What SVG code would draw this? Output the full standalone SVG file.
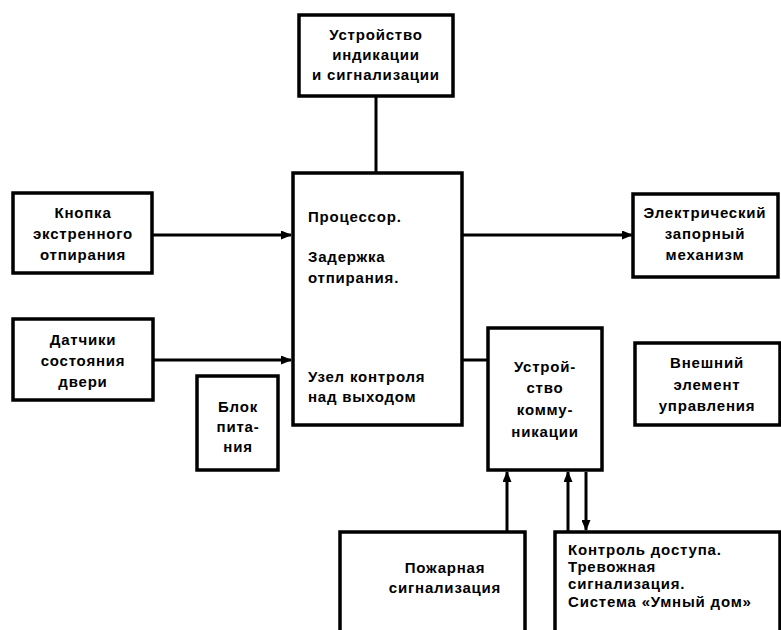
<svg xmlns="http://www.w3.org/2000/svg" width="781" height="630" viewBox="0 0 781 630">
<defs>
<style>
.box{fill:#fff;stroke:#000;stroke-width:3.5}
.ln{fill:none;stroke:#000;stroke-width:3}
text{font-family:"Liberation Sans",Arial,sans-serif;font-weight:bold;font-size:15px;letter-spacing:0.8px;fill:#000}
.c{text-anchor:middle}
</style>
<marker id="ah" markerUnits="userSpaceOnUse" markerWidth="11" markerHeight="9" refX="10" refY="4.5" orient="auto">
<path d="M0,0 L11,4.5 L0,9 z" fill="#000"/>
</marker>
</defs>
<rect width="781" height="630" fill="#fff"/>
<g id="connectors">
<line class="ln" x1="376" y1="97" x2="376" y2="173"/>
<line class="ln" x1="152" y1="235" x2="291" y2="235" marker-end="url(#ah)"/>
<line class="ln" x1="153" y1="360" x2="291" y2="360" marker-end="url(#ah)"/>
<line class="ln" x1="462" y1="235" x2="632" y2="235" marker-end="url(#ah)"/>
<line class="ln" x1="462" y1="360" x2="488" y2="360"/>
<line class="ln" x1="507" y1="532" x2="507" y2="472" marker-end="url(#ah)"/>
<line class="ln" x1="568" y1="532" x2="568" y2="472" marker-end="url(#ah)"/>
<line class="ln" x1="586" y1="472" x2="586" y2="530" marker-end="url(#ah)"/>
</g>
<g id="indication">
<rect class="box" x="299" y="15" width="154" height="81"/>
<text class="c" x="376" y="40">Устройство</text>
<text class="c" x="376" y="60">индикации</text>
<text class="c" x="376" y="80">и сигнализации</text>
</g>
<g id="processor">
<rect class="box" x="293" y="173" width="169" height="252"/>
<text x="308" y="222">Процессор.</text>
<text x="308" y="262">Задержка</text>
<text x="308" y="283">отпирания.</text>
<text x="308" y="382">Узел контроля</text>
<text x="308" y="402">над выходом</text>
</g>
<g id="button">
<rect class="box" x="13" y="193" width="139" height="80"/>
<text class="c" x="83" y="218">Кнопка</text>
<text class="c" x="83" y="239">экстренного</text>
<text class="c" x="83" y="260">отпирания</text>
</g>
<g id="sensors">
<rect class="box" x="13" y="319" width="140" height="81"/>
<text class="c" x="83" y="345">Датчики</text>
<text class="c" x="83" y="366">состояния</text>
<text class="c" x="83" y="387">двери</text>
</g>
<g id="power">
<rect class="box" x="197" y="376" width="81" height="94"/>
<text class="c" x="238" y="412">Блок</text>
<text class="c" x="238" y="432">пита-</text>
<text class="c" x="238" y="452">ния</text>
</g>
<g id="lock">
<rect class="box" x="633" y="194" width="145" height="83"/>
<text class="c" x="705" y="218">Электрический</text>
<text class="c" x="705" y="239">запорный</text>
<text class="c" x="705" y="260">механизм</text>
</g>
<g id="comm">
<rect class="box" x="488" y="328" width="114" height="142"/>
<text class="c" x="545" y="372">Устрой-</text>
<text class="c" x="545" y="393">ство</text>
<text class="c" x="545" y="415">комму-</text>
<text class="c" x="545" y="437">никации</text>
</g>
<g id="external">
<rect class="box" x="635" y="343" width="145" height="82"/>
<text class="c" x="707" y="368">Внешний</text>
<text class="c" x="707" y="390">элемент</text>
<text class="c" x="707" y="411">управления</text>
</g>
<g id="fire">
<rect class="box" x="340" y="532" width="185" height="110"/>
<text class="c" x="445" y="573">Пожарная</text>
<text class="c" x="445" y="593">сигнализация</text>
</g>
<g id="access">
<rect class="box" x="555" y="532" width="225" height="110"/>
<text x="568" y="555">Контроль доступа.</text>
<text x="568" y="572">Тревожная</text>
<text x="568" y="589">сигнализация.</text>
<text x="568" y="607">Система «Умный дом»</text>
</g>
</svg>
